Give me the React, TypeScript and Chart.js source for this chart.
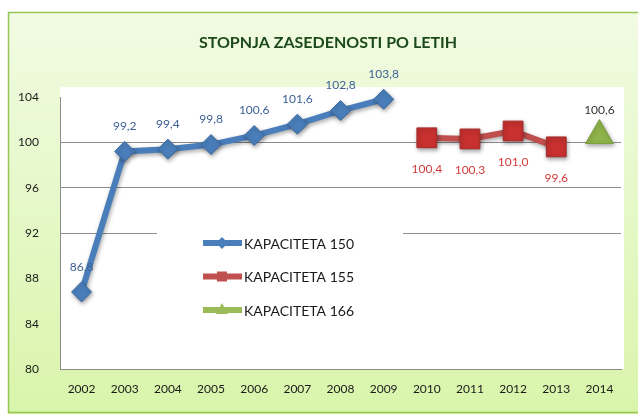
import React, { useEffect, useRef } from 'react';
import { Chart, registerables } from 'chart.js';

Chart.register(...registerables);

const years = ['2002', '2003', '2004', '2005', '2006', '2007', '2008', '2009', '2010', '2011', '2012', '2013', '2014'];
const kapaciteta150 = [86.8, 99.2, 99.4, 99.8, 100.6, 101.6, 102.8, 103.8, null, null, null, null, null];
const kapaciteta155 = [null, null, null, null, null, null, null, null, 100.4, 100.3, 101.0, 99.6, null];
const kapaciteta166 = [null, null, null, null, null, null, null, null, null, null, null, null, 100.6];
const seriesNames = ['KAPACITETA 150', 'KAPACITETA 155', 'KAPACITETA 166'];
const yMin = 80;
const yMax = 104;
const yStep = 4;
const chartTitle = 'STOPNJA ZASEDENOSTI PO LETIH';

const FONT = 'Lato, "Open Sans", "Noto Sans", sans-serif';
const BLUE = '#4a7ebb';
const RED = '#c0504d';
const GREEN = '#9bbb59';

const fmt = (v: number) => v.toFixed(1).replace('.', ',');

export default function App() {
  const ref = useRef<HTMLCanvasElement | null>(null);

  useEffect(() => {
    if (!ref.current) return;

    const decor = {
      id: 'decor',
      beforeDraw(chart: any) {
        const { ctx, chartArea } = chart;
        ctx.save();
        ctx.fillStyle = '#ffffff';
        ctx.fillRect(0, 0, chart.width, chart.height);
        const g = ctx.createLinearGradient(0, 12, 0, 412);
        g.addColorStop(0, '#f1fbe3');
        g.addColorStop(1, '#d9f5ab');
        ctx.fillStyle = g;
        ctx.fillRect(8, 12, chart.width, 402);
        ctx.strokeStyle = '#95c653';
        ctx.lineWidth = 1.5;
        ctx.strokeRect(8.5, 12.5, chart.width, 400);
        ctx.fillStyle = '#ffffff';
        ctx.fillRect(chartArea.left, chartArea.top - 10, chartArea.right - chartArea.left + 3, chartArea.bottom - chartArea.top + 10);
        ctx.fillStyle = '#1d4a1b';
        ctx.font = `bold 16px ${FONT}`;
        ctx.textAlign = 'center';
        ctx.textBaseline = 'middle';
        ctx.fillText(chartTitle, 328, 43);
        ctx.restore();
      },
      beforeDatasetsDraw(chart: any) {
        const { ctx } = chart;
        ctx.save();
        ctx.fillStyle = '#ffffff';
        ctx.fillRect(157, 222, 246, 110);
        ctx.restore();
      },
      beforeDatasetDraw(chart: any) {
        const { ctx } = chart;
        ctx.save();
        ctx.shadowColor = 'rgba(0,0,0,0.35)';
        ctx.shadowBlur = 4;
        ctx.shadowOffsetX = 1;
        ctx.shadowOffsetY = 2;
      },
      afterDatasetDraw(chart: any) {
        chart.ctx.restore();
      },
      afterDatasetsDraw(chart: any) {
        const { ctx } = chart;
        const cfg = [
          { color: '#3b5f94', off: -25 },
          { color: '#d33a3a', off: 31 },
          { color: '#333333', off: -25 },
        ];
        ctx.save();
        ctx.font = `12px ${FONT}`;
        ctx.textAlign = 'center';
        ctx.textBaseline = 'middle';
        chart.data.datasets.forEach((ds: any, i: number) => {
          const meta = chart.getDatasetMeta(i);
          meta.data.forEach((pt: any, j: number) => {
            const v = ds.data[j];
            if (v === null || v === undefined) return;
            ctx.fillStyle = cfg[i].color;
            ctx.fillText(fmt(v), pt.x, pt.y + cfg[i].off);
          });
        });
        ctx.restore();
      },
      afterDraw(chart: any) {
        const { ctx } = chart;
        const colors = [BLUE, RED, GREEN];
        ctx.save();
        seriesNames.forEach((name, i) => {
          const y = 243 + i * 33.5;
          ctx.strokeStyle = colors[i];
          ctx.lineWidth = 6;
          ctx.beginPath();
          ctx.moveTo(203, y);
          ctx.lineTo(242, y);
          ctx.stroke();
          ctx.fillStyle = colors[i];
          const cx = 222;
          ctx.beginPath();
          if (i === 0) {
            ctx.moveTo(cx, y - 6);
            ctx.lineTo(cx + 6, y);
            ctx.lineTo(cx, y + 6);
            ctx.lineTo(cx - 6, y);
          } else if (i === 1) {
            ctx.rect(cx - 5, y - 5, 10, 10);
          } else {
            ctx.moveTo(cx, y - 7);
            ctx.lineTo(cx + 6, y + 4);
            ctx.lineTo(cx - 6, y + 4);
          }
          ctx.closePath();
          ctx.fill();
          ctx.fillStyle = '#1a1a1a';
          ctx.font = `14px ${FONT}`;
          ctx.textAlign = 'left';
          ctx.textBaseline = 'middle';
          ctx.fillText(name, 244, y + 1);
        });
        ctx.restore();
      },
    };

    const chart = new Chart(ref.current, {
      type: 'line',
      data: {
        labels: years,
        datasets: [
          {
            label: seriesNames[0],
            data: kapaciteta150,
            borderColor: BLUE,
            backgroundColor: BLUE,
            borderWidth: 6,
            pointStyle: 'rectRot',
            pointRadius: 10,
            pointBackgroundColor: BLUE,
            pointBorderColor: '#3a6aa3',
            pointBorderWidth: 1,
            spanGaps: false,
            tension: 0,
            clip: false,
          },
          {
            label: seriesNames[1],
            data: kapaciteta155,
            borderColor: RED,
            backgroundColor: RED,
            borderWidth: 6,
            pointStyle: 'rect',
            pointRadius: 14,
            pointBackgroundColor: '#c8312f',
            pointBorderColor: '#a32c2a',
            pointBorderWidth: 1,
            spanGaps: false,
            tension: 0,
            clip: false,
          },
          {
            label: seriesNames[2],
            data: kapaciteta166,
            borderColor: GREEN,
            backgroundColor: GREEN,
            borderWidth: 6,
            pointStyle: 'triangle',
            pointRadius: 16,
            pointBackgroundColor: '#8fb34a',
            pointBorderColor: '#7d9e3e',
            pointBorderWidth: 1,
            clip: false,
          },
        ],
      },
      options: {
        responsive: false,
        animation: false,
        devicePixelRatio: 1,
        layout: { padding: { top: 97, right: 9, left: 0, bottom: 0 } },
        plugins: {
          legend: { display: false },
          title: { display: false },
          tooltip: { enabled: false },
        },
        scales: {
          x: {
            offset: true,
            grid: { color: 'transparent', drawTicks: false, offset: true },
            border: { color: '#8c8c8c', width: 1 },
            ticks: {
              color: '#1a1a1a',
              font: { family: FONT, size: 12 },
              padding: 13,
              maxRotation: 0,
              autoSkip: false,
            },
            afterFit: (s: any) => {
              s.height = 45;
            },
          },
          y: {
            min: yMin,
            max: yMax,
            grid: {
              drawTicks: false,
              color: (c: any) => {
                const v = c.tick && c.tick.value;
                return v === 100 || v === 96 || v === 92 || v === 80 ? '#8c8c8c' : 'transparent';
              },
            },
            border: { color: '#8c8c8c', width: 1 },
            ticks: {
              stepSize: yStep,
              color: '#1a1a1a',
              font: { family: FONT, size: 12 },
              padding: 21,
            },
            afterFit: (s: any) => {
              s.width = 60;
            },
          },
        },
      },
      plugins: [decor],
    });

    return () => chart.destroy();
  }, []);

  return (
    <div style={{ position: 'absolute', left: 0, top: 0, width: 638, height: 414 }}>
      <canvas ref={ref} width={638} height={414} style={{ display: 'block' }} />
    </div>
  );
}
